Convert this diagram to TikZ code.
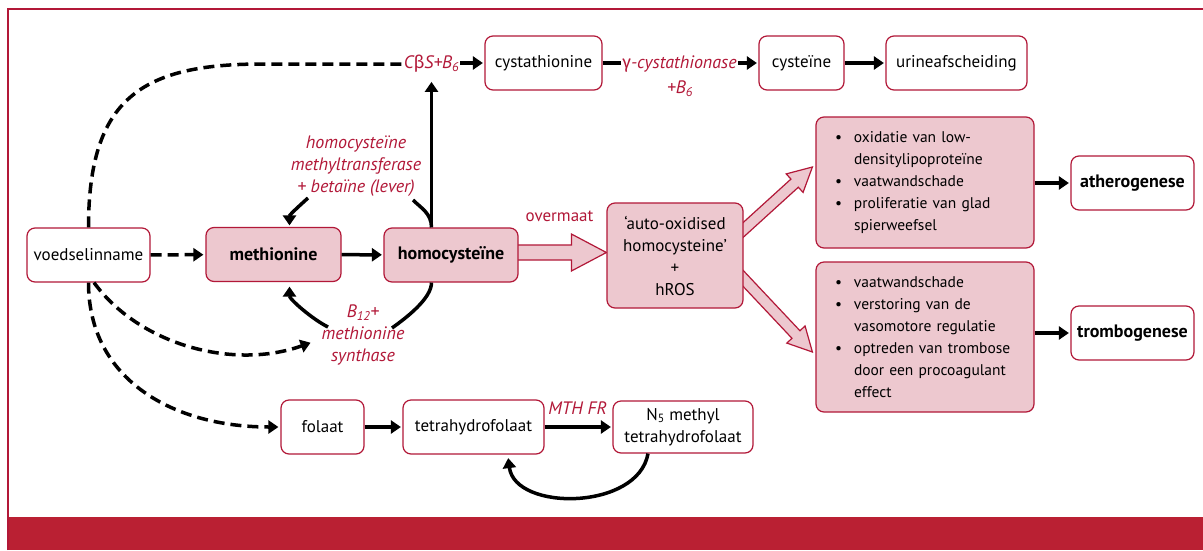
\documentclass[tikz,border=0pt]{standalone}
\usepackage{fontspec}
\setmainfont{PT Sans}
\newfontfamily\grk{Fira Sans}
\usetikzlibrary{arrows.meta,calc}
\definecolor{mred}{RGB}{178,24,56}
\definecolor{band}{RGB}{186,32,51}
\definecolor{pinkf}{RGB}{237,200,207}
\pgfdeclarelayer{bg}
\pgfsetlayers{bg,main}
\newcommand\fs{\fontsize{17}{22}\selectfont}
\newcommand\fsb{\fontsize{18}{22}\selectfont\bfseries}
\newcommand\fsl{\fontsize{18}{22}\selectfont\itshape}
\newcommand\fsx{\fontsize{15.5}{22}\selectfont}
\newcommand\bul{\hspace*{15pt}\makebox[19pt][l]{\textbullet}}
\newcommand\ind{\hspace*{34pt}}
\newcommand\hollowarr[5]{%
  \coordinate (hh) at ($(#2)!#5!(#1)$);
  \filldraw[hollow] ($(#1)!#3!90:(#2)$) -- ($(hh)!#3!90:(#2)$) -- ($(hh)!#4!90:(#2)$) -- (#2)
    -- ($(hh)!#4!-90:(#2)$) -- ($(hh)!#3!-90:(#2)$) -- ($(#1)!#3!-90:(#2)$) -- cycle;}
\tikzset{
  box/.style={draw=mred, line width=1.2pt, rounded corners=8pt, fill=white, align=center,
    inner sep=2pt, minimum height=54pt},
  pbox/.style={box, fill=pinkf},
  lbox/.style={pbox, text width=210pt, inner xsep=4pt, align=left, font=\fsx},
  lab/.style={text=mred, font=\fsl, inner sep=1pt, align=center},
  ln/.style={line width=3.5pt},
  arr/.style={line width=3.5pt, -{Triangle[length=10pt,width=13pt]}, shorten >=1.5pt},
  dln/.style={line width=3.5pt, dash pattern=on 11pt off 6pt},
  darr/.style={dln, -{Triangle[length=10pt,width=13pt]}, shorten >=2pt},
  hollow/.style={draw=mred, fill=pinkf, line width=1.2pt, line join=miter},
}
\begin{document}
\begin{tikzpicture}[x=1pt,y=-1pt,font=\fs]
\useasboundingbox (0,0) rectangle (1203,550);
% boxes
\node[box, minimum width=123pt] (voed) at (88.5,255) {voedselinname};
\node[pbox, minimum width=135pt, font=\fsb] (meth) at (273.5,254.5) {methionine};
\node[pbox, minimum width=134pt, font=\fsb] (homo) at (451,255) {homocysteïne};
\node[box, minimum width=117pt] (cysta) at (543.5,63) {cystathionine};
\node[box, minimum width=85pt] (cyste) at (801.5,63) {cysteïne};
\node[box, minimum width=141pt] (urine) at (956.5,63) {urineafscheiding};
\node[pbox, minimum width=136pt, minimum height=105pt] (auto) at (675,255.5)
  {‘auto-oxidised\\homocysteine’\\+\\hROS};
\node[lbox, minimum height=131pt] (box1) at (925,182.5)
  {\bul oxidatie van low-\\\ind densitylipoproteïne\\\bul vaatwandschade\\\bul proliferatie van glad\\\ind spierweefsel};
\node[box, minimum width=123pt, font=\fsb] (ather) at (1132.5,183) {atherogenese};
\node[lbox, minimum height=150pt] (box2) at (925,337)
  {\bul vaatwandschade\\\bul verstoring van de\\\ind vasomotore regulatie\\\bul optreden van trombose\\\ind door een procoagulant\\\ind effect};
\node[box, minimum width=123pt, font=\fsb] (tromb) at (1132.5,333) {trombogenese};
\node[box, minimum width=83pt] (fol) at (322.5,427) {folaat};
\node[box, minimum width=141pt] (thf) at (473.5,427) {tetrahydrofolaat};
\node[box, minimum width=140pt, minimum height=52pt] (n5) at (683,427) {N\textsubscript{5} methyl\\tetrahydrofolaat};
% labels
\node[lab] (cbs) at (431.5,64) {C{\grk\upshape β}S+B\textsubscript{6}};
\node[lab] (gam) at (679.5,64) {{\grk\upshape γ}-cystathionase};
\node[lab] (gamb) at (680,89) {+B\textsubscript{6}};
\node[lab] (mt) at (356,166) {homocysteïne\\methyltransferase\\+ betaïne (lever)};
\node[lab] (ms) at (363,335) {B\textsubscript{12}+\\methionine\\synthase};
\node[lab, font=\fs] (over) at (559.5,216) {overmaat};
\node[lab] (mth) at (577.5,408) {MTH FR};
% coordinates
\coordinate (mtR) at (413,200);
\coordinate (mtL) at (308,198);
\coordinate (msR) at (392,328);
\coordinate (msL) at (328,327);
\coordinate (hA) at ($(homo.east)+(-6,-2.5)$);
\coordinate (hB) at ($(auto.west)+(0,-3)$);
\coordinate (uA) at ($(auto.east)+(-6,-20.5)$);
\coordinate (uB) at ($(box1.west)+(-3,-15.5)$);
\coordinate (lA) at ($(auto.east)+(-6,17)$);
\coordinate (lB) at ($(box2.west)+(-3,15)$);
% background: frame and hollow arrows
\begin{pgfonlayer}{bg}
\fill[white] (0,0) rectangle (1203,550);
\fill[band] (8,517) rectangle (1203,550);
\draw[mred, line width=1.8pt] (8,550) -- (8,9) -- (1203,9);
\hollowarr{hA}{hB}{7.5pt}{18.5pt}{35pt}
\hollowarr{uA}{uB}{5.5pt}{12.5pt}{24pt}
\hollowarr{lA}{lB}{5.5pt}{12.5pt}{24pt}
\end{pgfonlayer}
% connectors
\draw[ln] (cysta.east) -- (cysta.east -| gam.west);
\draw[arr] (gam.east |- cyste.west) -- (cyste.west);
\draw[arr] (cyste) -- (urine);
\draw[arr] (cbs.east |- cysta.west) -- (cysta.west);
\draw[dln] (voed.north) .. controls +(0,-130) and +(-120,0) .. ($(cbs.west)+(-140,0)$) -- (cbs.west);
\draw[arr, shorten >=8pt] (cbs.south |- homo.north) -- (cbs.south);
\draw[ln] (cbs.south |- homo.north) .. controls +(0,-14) and +(8,8) .. (mtR);
\draw[arr] (mtL) .. controls +(-10,9) and +(0,-12) .. ($(meth.north)+(16,0)$);
\draw[ln] (cbs.south |- homo.south) .. controls +(0,16) and +(14,-10) .. (msR);
\draw[arr] (msL) .. controls +(-16,-8) and +(0,14) .. ($(meth.south)+(16,3)$);
\draw[darr] (voed) -- (meth);
\draw[arr] (meth) -- (homo);
\draw[darr] ($(voed.south)+(5.5,0)$) .. controls +(46,63) and +(-78,28) .. ($(ms.west)+(-8,7)$);
\draw[darr] (voed.south) .. controls +(0,98) and +(-106,0) .. (fol.west);
\draw[arr] (fol) -- (thf);
\draw[arr] (thf) -- (n5);
\draw[arr] ($(n5.south)+(-35,0)$) .. controls +(-10,57) and +(7,55) .. ($(thf.south)+(34.5,2)$);
\draw[arr] (box1.east |- ather.west) -- (ather.west);
\draw[arr] (box2.east |- tromb.west) -- (tromb.west);
\end{tikzpicture}
\end{document}
